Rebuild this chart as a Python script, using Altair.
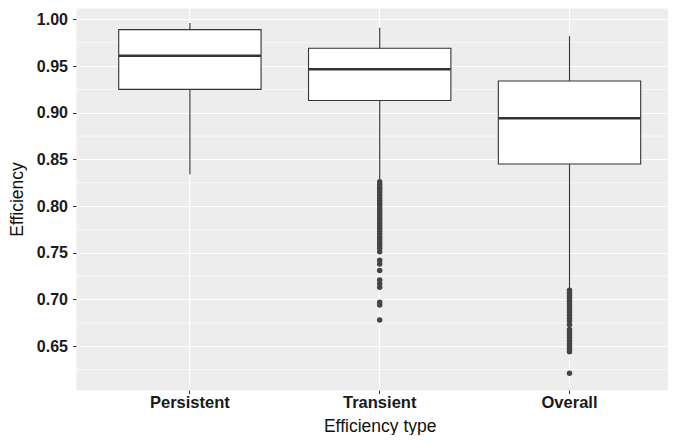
import altair as alt
import pandas as pd

categories = ["Persistent", "Transient", "Overall"]
whisker_low = [0.834, 0.829, 0.712]
q1 = [0.925, 0.913, 0.845]
median = [0.961, 0.9465, 0.894]
q3 = [0.989, 0.969, 0.934]
whisker_high = [0.996, 0.991, 0.982]

transient_outliers = [0.826, 0.823, 0.820, 0.818, 0.815, 0.812, 0.809, 0.806, 0.803,
                      0.800, 0.797, 0.794, 0.791, 0.788, 0.785, 0.782, 0.779, 0.776,
                      0.773, 0.770, 0.767, 0.764, 0.761, 0.758, 0.755, 0.751, 0.742,
                      0.738, 0.731, 0.721, 0.717, 0.713, 0.697, 0.694, 0.678]
overall_outliers = [0.710, 0.707, 0.704, 0.701, 0.698, 0.695, 0.692, 0.689, 0.686,
                    0.683, 0.680, 0.677, 0.673, 0.668, 0.665, 0.662, 0.659, 0.656,
                    0.653, 0.650, 0.647, 0.644, 0.621]

y_ticks = [0.65, 0.70, 0.75, 0.80, 0.85, 0.90, 0.95, 1.00]
y_minor = [0.625, 0.675, 0.725, 0.775, 0.825, 0.875, 0.925, 0.975]

box_df = pd.DataFrame({"type": categories, "lo": whisker_low, "q1": q1,
                       "med": median, "q3": q3, "hi": whisker_high})
out_df = pd.DataFrame({
    "type": ["Transient"] * len(transient_outliers) + ["Overall"] * len(overall_outliers),
    "v": transient_outliers + overall_outliers,
})
minor_df = pd.DataFrame({"v": y_minor})

xscale = alt.Scale(type="band", range=[0, 607.4], paddingInner=0.25, paddingOuter=0.225)
yscale = alt.Scale(domain=[0.6031, 1.0121], nice=False, zero=False)

x_axis = alt.Axis(title="Efficiency type", labelFontWeight="bold", labelFontSize=16.5,
                  labelColor="#1a1a1a", labelPadding=1, tickSize=3.5, tickColor="#333333",
                  titleFontSize=17.5, titleFontWeight="normal", titleColor="#111111",
                  titleY=41, titleBaseline="alphabetic", grid=True, bandPosition=0.5,
                  labelAngle=0)
y_axis = alt.Axis(title="Efficiency", values=y_ticks, format=".2f", labelFontWeight="bold",
                  labelFontSize=16, labelColor="#1a1a1a", labelPadding=5, tickSize=3.5,
                  tickColor="#333333", titleFontSize=17.5, titleFontWeight="normal",
                  titleColor="#111111", titlePadding=10, grid=True)

X = alt.X("type:N", sort=categories, scale=xscale, axis=x_axis)

minor = alt.Chart(minor_df).mark_rule(color="white", strokeWidth=0.6).encode(
    y=alt.Y("v:Q", scale=yscale, axis=y_axis)
)
whisk = alt.Chart(box_df).mark_rule(color="#333333", strokeWidth=1.1).encode(
    x=X, y=alt.Y("lo:Q", scale=yscale, axis=y_axis), y2="hi:Q"
)
box = alt.Chart(box_df).mark_bar(fill="white", stroke="#333333", strokeWidth=1.1).encode(
    x=X, y=alt.Y("q1:Q", scale=yscale, axis=y_axis), y2="q3:Q"
)
med = alt.Chart(box_df).mark_tick(color="#333333", thickness=2.6, size=142, opacity=1).encode(
    x=X, y=alt.Y("med:Q", scale=yscale, axis=y_axis)
)
pts = alt.Chart(out_df).mark_circle(size=30, color="#444444", opacity=1).encode(
    x=X, y=alt.Y("v:Q", scale=yscale, axis=y_axis)
)

chart = alt.layer(minor, whisk, box, med, pts).properties(
    width=592, height=382,
    autosize=alt.AutoSizeParams(type="none"),
    padding={"left": 68, "top": 0, "right": 0, "bottom": 45},
).configure_view(fill="#EDEDED", stroke="transparent").configure_axis(
    domain=False, gridColor="white", gridWidth=1.2, labelFont="Liberation Sans",
    titleFont="Liberation Sans"
)

chart.save("out.html", embed_options={"renderer": "svg", "actions": False})
